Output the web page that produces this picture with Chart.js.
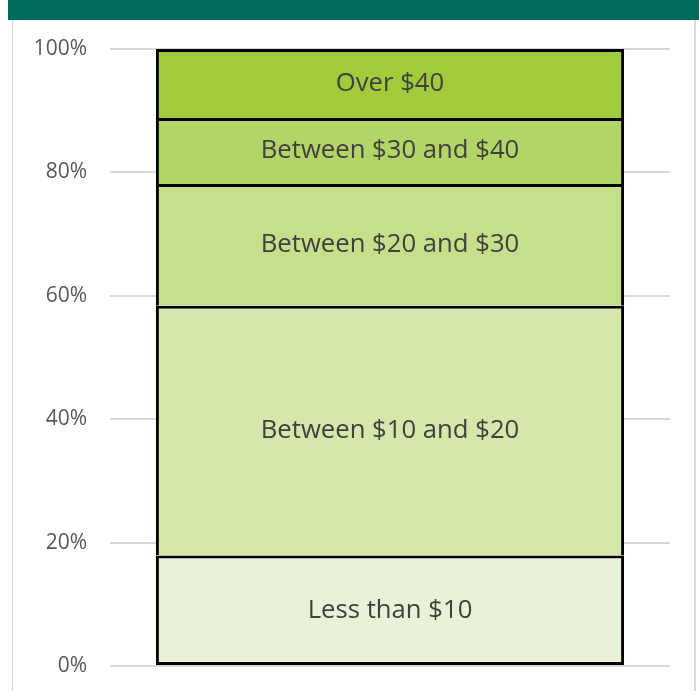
<!DOCTYPE html>
<html>
<head>
<meta charset="utf-8">
<script src="https://cdn.jsdelivr.net/npm/chart.js@4"></script>
<style>
  html, body { margin: 0; padding: 0; background: #fff; }
  #wrap { position: relative; width: 699px; height: 691px; overflow: hidden; }
  #header { position: absolute; left: 8px; top: 0; width: 691px; height: 20px; background: #006b5e; }
  #lborder { position: absolute; left: 12px; top: 20px; width: 1px; height: 671px; background: #d9d9d9; }
  #rborder { position: absolute; left: 694px; top: 20px; width: 2px; height: 671px; background: #d9d9d9; }
  canvas { position: absolute; left: 0; top: 0; }
</style>
</head>
<body>
<div id="wrap">
  <div id="header"></div>
  <div id="lborder"></div>
  <div id="rborder"></div>
  <canvas id="myChart" width="699" height="691"></canvas>
</div>
<script>
const categories = [''];
const seriesNames = ['Less than $10', 'Between $10 and $20', 'Between $20 and $30', 'Between $30 and $40', 'Over $40'];
const seriesValues = [17.9, 40.5, 19.7, 10.7, 11.2];
const seriesColors = ['#e8f2d6', '#d5e7ab', '#c5df8a', '#b3d567', '#a1cb3a'];
const tickValues = [0, 20, 40, 60, 80, 100];

// etiquetas dentro de cada segmento
const segmentLabels = {
  id: 'segmentLabels',
  afterDatasetsDraw(chart) {
    const ctx = chart.ctx;
    ctx.save();
    ctx.font = '25.7px "Open Sans"';
    ctx.fillStyle = '#404040';
    ctx.textAlign = 'center';
    ctx.textBaseline = 'middle';
    chart.data.datasets.forEach((ds, i) => {
      const bar = chart.getDatasetMeta(i).data[0];
      const mid = (bar.y + bar.base) / 2;
      ctx.fillText(ds.label, bar.x, mid);
    });
    ctx.restore();
  }
};

// solo el segmento inferior dibuja su borde de abajo, así no se duplican las líneas
const datasets = seriesNames.map((name, i) => ({
  label: name,
  data: [seriesValues[i]],
  backgroundColor: seriesColors[i],
  borderColor: '#000000',
  borderWidth: 3,
  borderSkipped: i === 0 ? false : 'bottom',
  barPercentage: 0.836,
  categoryPercentage: 1
}));

new Chart(document.getElementById('myChart').getContext('2d'), {
  type: 'bar',
  data: { labels: categories, datasets: datasets },
  options: {
    responsive: false,
    animation: false,
    layout: { padding: { top: 49, bottom: 25, right: 29, left: 0 } },
    plugins: { legend: { display: false }, tooltip: { enabled: false } },
    scales: {
      x: {
        stacked: true,
        display: false
      },
      y: {
        stacked: true,
        min: 0,
        max: 100,
        afterFit: s => { s.width = 110; s.paddingTop = 0; s.paddingBottom = 0; },
        afterBuildTicks: s => { s.ticks = tickValues.map(v => ({ value: v })); },
        border: { display: false },
        grid: { color: '#d9d9d9', lineWidth: 2, drawTicks: false },
        ticks: {
          padding: 23,
          color: '#595959',
          font: { family: '"Open Sans"', size: 21 },
          callback: v => v + '%'
        }
      }
    }
  },
  plugins: [segmentLabels]
});
</script>
</body>
</html>
